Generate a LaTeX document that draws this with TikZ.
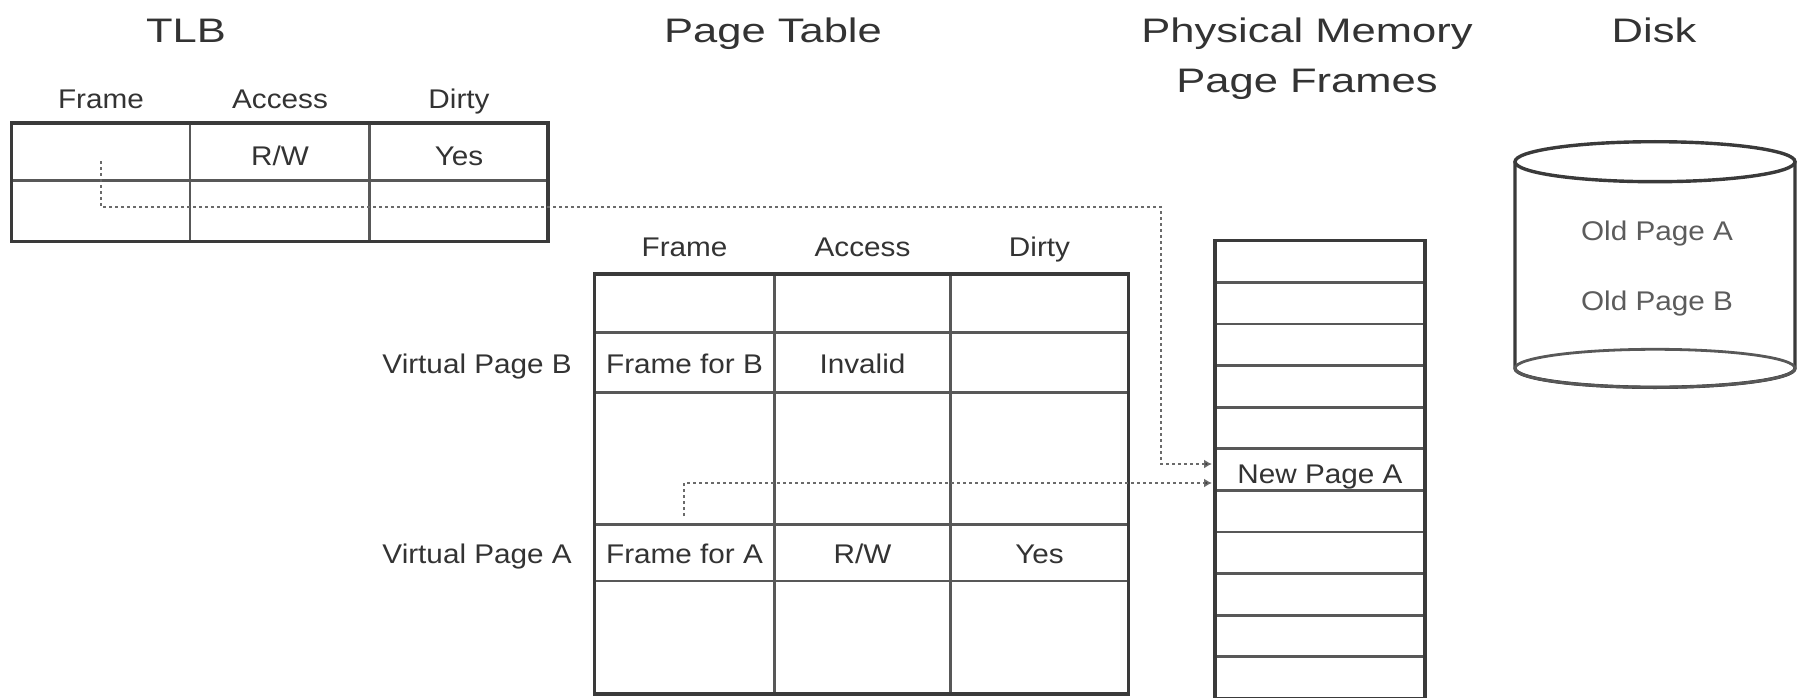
\documentclass[tikz,border=0pt]{standalone}
\usepackage{fontspec}
\usetikzlibrary{arrows.meta}
\newfontfamily\titlefont[FakeStretch=1.28]{Liberation Sans}
\newfontfamily\smallfont[FakeStretch=1.1]{Liberation Sans}
\definecolor{ink}{HTML}{333333}
\definecolor{rule}{HTML}{3A3A3A}
\definecolor{dotc}{HTML}{6A6A6A}
\tikzset{
  ttl/.style={anchor=base, text=ink, inner sep=0pt, font=\titlefont\fontsize{34}{40}\selectfont},
  lbl/.style={anchor=base, text=ink, inner sep=0pt, font=\smallfont\fontsize{27}{32}\selectfont},
  rlbl/.style={lbl, anchor=base east},
  outer/.style={draw=rule, line width=3.4pt},
  inner/.style={draw=rule!85, line width=2.8pt},
  dotarrow/.style={draw=dotc, line width=2pt, dash pattern=on 3pt off 3pt,
    -{Latex[length=8pt,width=9pt,fill=black!85]}},
}
\begin{document}
\begin{tikzpicture}[x=1pt,y=-1pt]
\useasboundingbox (0,0) rectangle (1804,698);
\fill[white] (0,0) rectangle (1804,698);

% Titles
\node[ttl] (tTLB) at (186,43) {TLB};
\node[ttl] (tPT) at (773,43) {Page Table};
\node[ttl] (tPM1) at (1307,43) {Physical Memory};
\node[ttl] (tPM2) at (1307,93) {Page Frames};
\node[ttl] (tDisk) at (1654,43) {Disk};

% TLB table
\draw[inner] (11.5,180.6) -- (548,180.6);
\draw[inner] (190,123) -- (190,241.6);
\draw[inner] (369.5,123) -- (369.5,241.6);
\draw[outer] (11.5,123) rectangle (548,241.6);
\node[lbl] (tlbh1) at (101,109) {Frame};
\node[lbl] (tlbh2) at (280,109) {Access};
\node[lbl] (tlbh3) at (459,109) {Dirty};
\node[lbl] (tlbrw) at (280,165) {R/W};
\node[lbl] (tlbyes) at (459,165) {Yes};

% Page table
\foreach \yy in {332.5,392.3,524.6,581} \draw[inner] (594.5,\yy) -- (1128.5,\yy);
\draw[inner] (774.5,274) -- (774.5,694);
\draw[inner] (950.5,274) -- (950.5,694);
\draw[outer] (594.5,274) rectangle (1128.5,694);
\node[lbl] (pth1) at (684.5,256) {Frame};
\node[lbl] (pth2) at (862.5,256) {Access};
\node[lbl] (pth3) at (1039.5,256) {Dirty};
\node[rlbl] (vpB) at (572,373) {Virtual Page B};
\node[rlbl] (vpA) at (572,563) {Virtual Page A};
\node[lbl] (fB) at (684.5,373) {Frame for B};
\node[lbl] (inv) at (862.5,373) {Invalid};
\node[lbl] (fA) at (684.5,563) {Frame for A};
\node[lbl] (rwA) at (862.5,563) {R/W};
\node[lbl] (yesA) at (1039.5,563) {Yes};

% Physical memory
\foreach \k in {1,...,10} \draw[inner] (1215,240.7+41.6*\k) -- (1425,240.7+41.6*\k);
\draw[outer] (1215,240.7) rectangle (1425,698.5);
\node[lbl] (newA) at (1320,483) {New Page A};

% Disk
\draw[outer, fill=white] (1515,161.7) -- (1515,368.3) arc[start angle=180, end angle=360, x radius=140pt, y radius=19pt] -- (1795,161.7);
\draw[inner] (1655,368.3) ellipse [x radius=140pt, y radius=19pt];
\draw[outer, fill=white] (1655,161.7) ellipse [x radius=140pt, y radius=20pt];
\node[lbl, text=ink!80] (oldA) at (1657,240) {Old Page A};
\node[lbl, text=ink!80] (oldB) at (1657,310) {Old Page B};

% Dotted connectors
\coordinate (tlbsrc) at (101,161);
\coordinate (bend1) at (1161,207);
\coordinate (memA1) at (1212,464);
\coordinate (ptsrc) at (684,516);
\coordinate (memA2) at (1212,483);
\draw[dotarrow] (tlbsrc) |- (bend1) |- (memA1);
\draw[dotarrow] (ptsrc) |- (memA2);
\end{tikzpicture}
\end{document}
